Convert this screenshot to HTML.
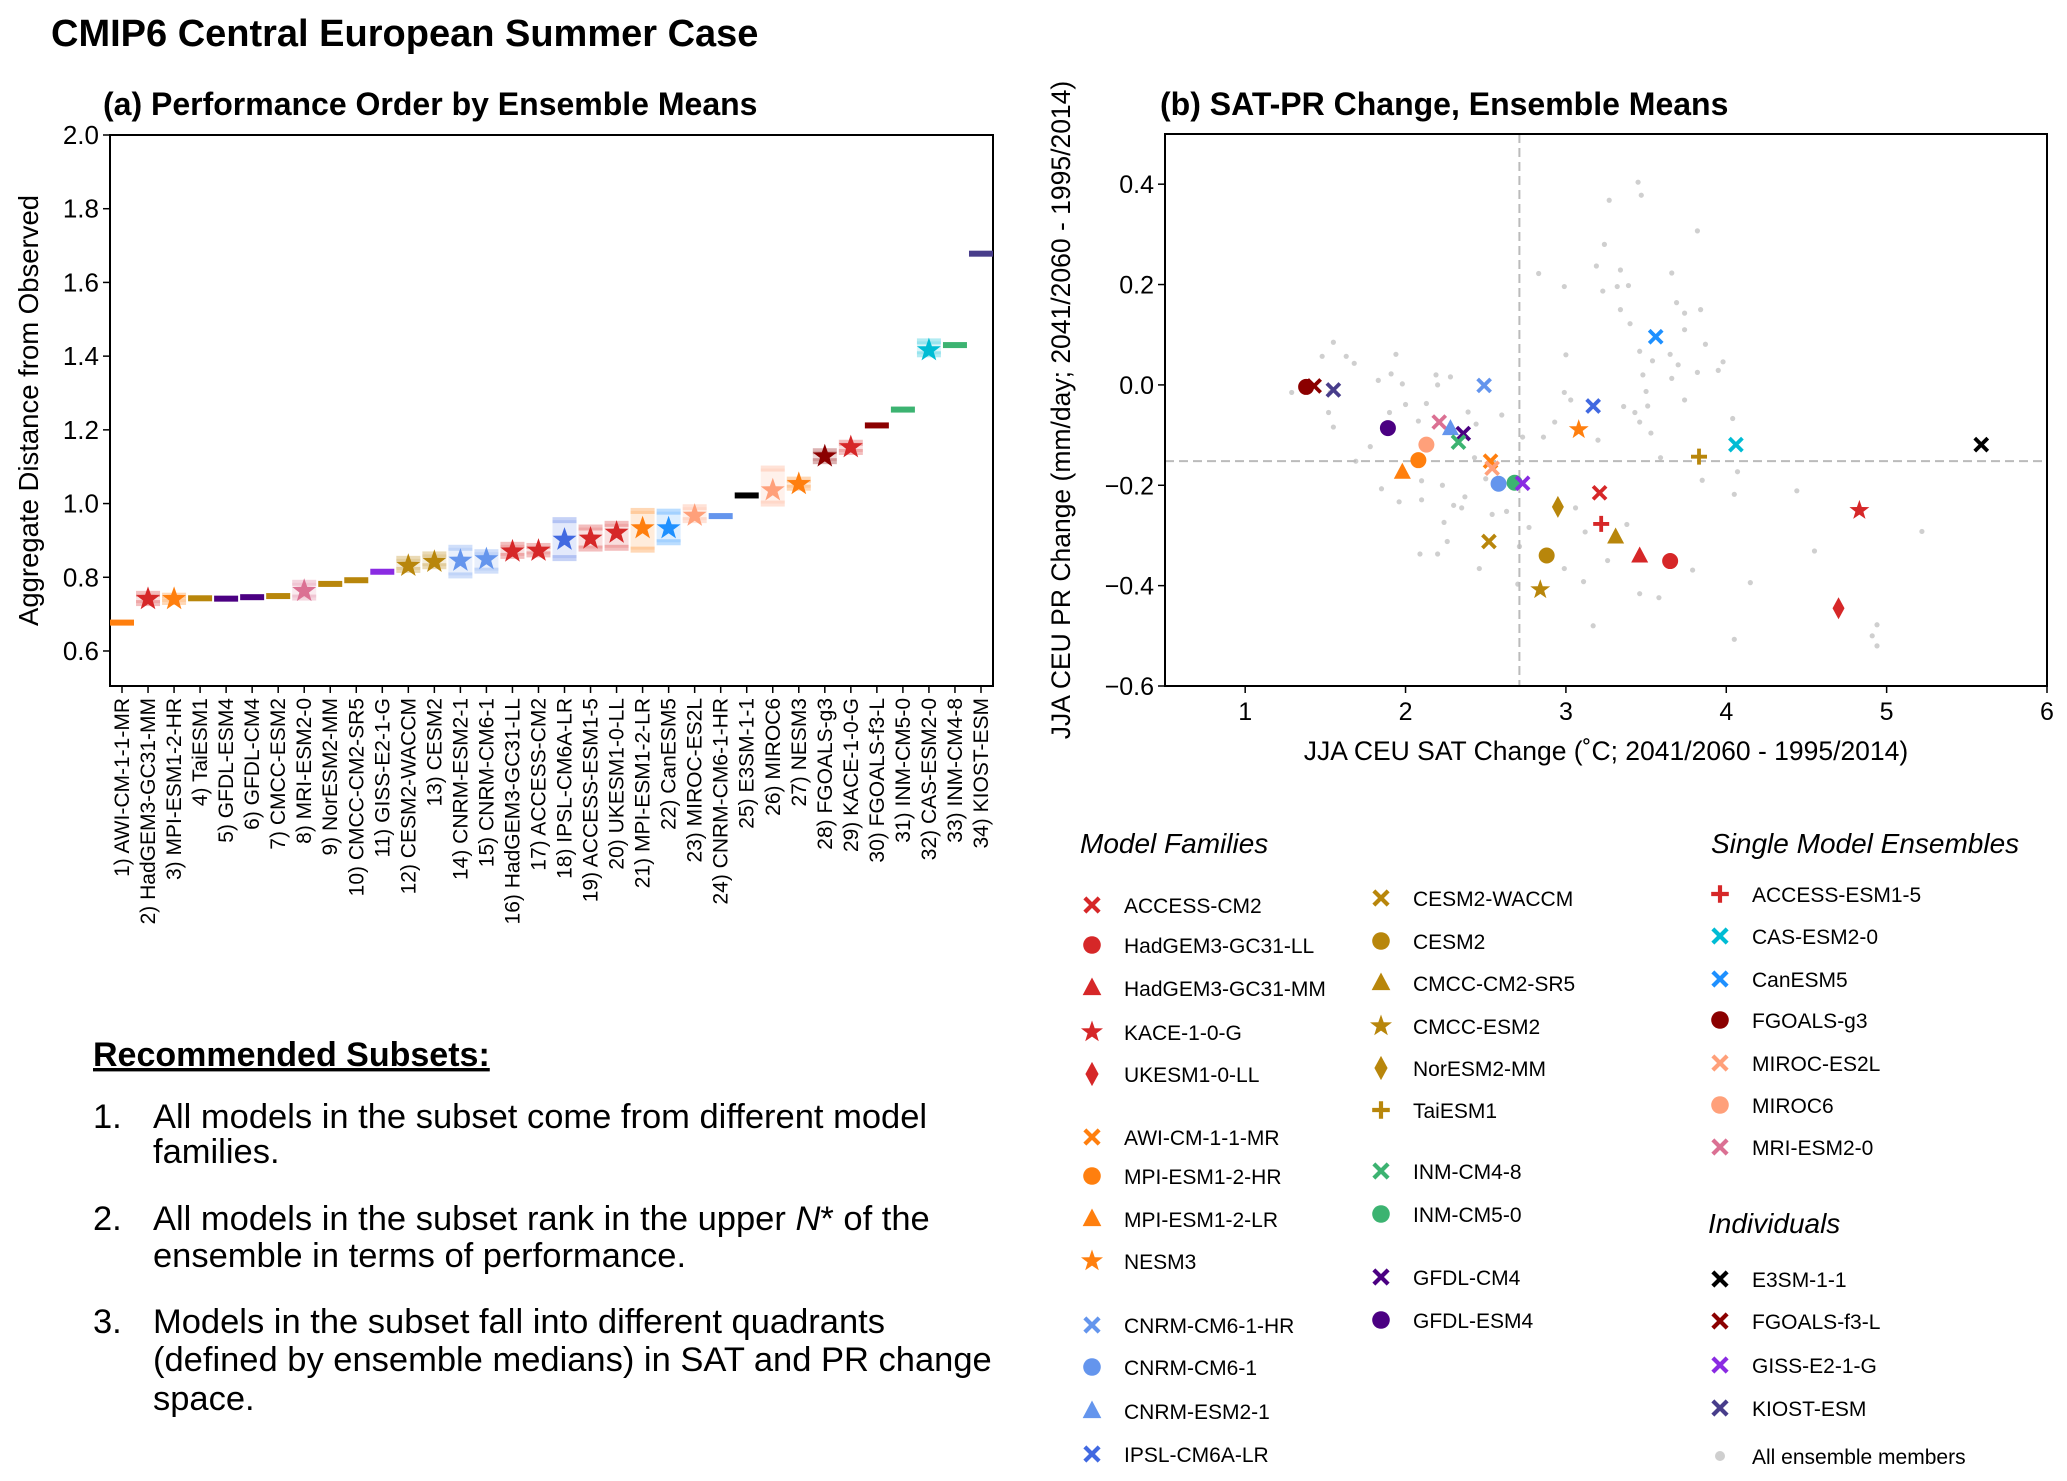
<!DOCTYPE html>
<html><head><meta charset="utf-8"><style>
html,body{margin:0;padding:0;background:#fff}
svg{display:block;font-family:"Liberation Sans",sans-serif}
</style></head><body>
<svg id="fig" width="2067" height="1481" viewBox="0 0 2067 1481" xmlns="http://www.w3.org/2000/svg">
<text x="51" y="46" font-size="38" font-weight="bold">CMIP6 Central European Summer Case</text>
<text x="103" y="115" font-size="32" font-weight="bold">(a) Performance Order by Ensemble Means</text>
<text x="1160" y="115" font-size="32" font-weight="bold">(b) SAT-PR Change, Ensemble Means</text>
<g id="pa"></g>
<g id="pb"></g>
<g id="lg"></g>
<g font-size="34.5">
<text x="93" y="1066" font-size="34" font-weight="bold" text-decoration="underline">Recommended Subsets:</text>
<text x="93" y="1128">1.</text><text x="153" y="1128">All models in the subset come from different model</text>
<text x="153" y="1163">families.</text>
<text x="93" y="1230">2.</text><text x="153" y="1230">All models in the subset rank in the upper <tspan font-style="italic">N</tspan>* of the</text>
<text x="153" y="1267">ensemble in terms of performance.</text>
<text x="93" y="1333">3.</text><text x="153" y="1333">Models in the subset fall into different quadrants</text>
<text x="153" y="1371">(defined by ensemble medians) in SAT and PR change</text>
<text x="153" y="1410">space.</text>
</g>
</svg>
<script>
// ---- Panel (a) data ----
const rankNames = ["AWI-CM-1-1-MR","HadGEM3-GC31-MM","MPI-ESM1-2-HR","TaiESM1","GFDL-ESM4","GFDL-CM4","CMCC-ESM2","MRI-ESM2-0","NorESM2-MM","CMCC-CM2-SR5","GISS-E2-1-G","CESM2-WACCM","CESM2","CNRM-ESM2-1","CNRM-CM6-1","HadGEM3-GC31-LL","ACCESS-CM2","IPSL-CM6A-LR","ACCESS-ESM1-5","UKESM1-0-LL","MPI-ESM1-2-LR","CanESM5","MIROC-ES2L","CNRM-CM6-1-HR","E3SM-1-1","MIROC6","NESM3","FGOALS-g3","KACE-1-0-G","FGOALS-f3-L","INM-CM5-0","CAS-ESM2-0","INM-CM4-8","KIOST-ESM"];
const rankValues = [0.677,0.741,0.741,0.743,0.742,0.746,0.749,0.763,0.782,0.792,0.815,0.831,0.842,0.845,0.849,0.870,0.872,0.902,0.905,0.921,0.933,0.933,0.967,0.966,1.022,1.036,1.053,1.128,1.153,1.212,1.255,1.416,1.430,1.678];
const rankIsEnsemble = [0,1,1,0,0,0,0,1,0,0,0,1,1,1,1,1,1,1,1,1,1,1,1,0,0,1,1,1,1,0,0,1,0,0];
const memberLo = [0,0.730,0.733,0,0,0,0,0.745,0,0,0,0.820,0.830,0.805,0.818,0.858,0.862,0.852,0.878,0.880,0.875,0.895,0.955,0,0,1.000,1.043,1.115,1.140,0,0,1.405,0,0];
const memberHi = [0,0.755,0.750,0,0,0,0,0.785,0,0,0,0.850,0.862,0.880,0.868,0.888,0.885,0.955,0.935,0.945,0.980,0.978,0.990,0,0,1.095,1.065,1.142,1.165,0,0,1.440,0,0];
const rankColors = ["#ff7f0e","#d62728","#ff7f0e","#b8860b","#4b0082","#4b0082","#b8860b","#db7093","#b8860b","#b8860b","#8a2be2","#b8860b","#b8860b","#6495ed","#6495ed","#d62728","#d62728","#4169e1","#d62728","#d62728","#ff7f0e","#1e90ff","#ffa07a","#6495ed","#000000","#ffa07a","#ff7f0e","#8b0000","#d62728","#8b0000","#3cb371","#00bcd4","#3cb371","#483d8b"];
const yTicksA = [0.6,0.8,1.0,1.2,1.4,1.6,1.8,2.0];

// ---- Panel (b) data ----
const modelSat = [1.38,1.43,1.55,1.89,2.21,2.28,2.36,2.33,2.13,2.08,1.98,2.49,2.53,2.54,2.58,2.68,2.73,2.52,2.95,2.88,2.84,3.08,3.17,3.56,3.21,3.22,3.31,3.46,3.65,3.83,4.06,5.59,4.83,4.70];
const modelPr = [-0.004,-0.002,-0.010,-0.086,-0.074,-0.087,-0.097,-0.114,-0.119,-0.150,-0.174,-0.001,-0.152,-0.166,-0.197,-0.195,-0.196,-0.312,-0.243,-0.340,-0.408,-0.089,-0.042,0.096,-0.215,-0.277,-0.303,-0.341,-0.351,-0.143,-0.119,-0.119,-0.250,-0.445];
const modelMarker = ["o","x","x","o","x","^","x","x","o","o","^","x","x","x","o","o","x","x","d","o","*","*","x","x","x","+","^","^","o","+","x","x","*","d"];
const modelColor = ["#8b0000","#8b0000","#483d8b","#4b0082","#db7093","#6495ed","#4b0082","#3cb371","#ffa07a","#ff7f0e","#ff7f0e","#6495ed","#ff7f0e","#ffa07a","#6495ed","#3cb371","#8a2be2","#b8860b","#b8860b","#b8860b","#b8860b","#ff7f0e","#4169e1","#1e90ff","#d62728","#d62728","#b8860b","#d62728","#d62728","#b8860b","#00bcd4","#000000","#d62728","#d62728"];
const memberSat = [1.55,1.48,1.63,1.68,1.94,1.91,1.98,1.83,1.29,1.53,1.52,1.55,2.0,1.90,1.78,1.69,1.85,1.96,2.10,2.09,2.26,2.46,2.30,2.23,2.37,2.19,2.28,2.20,2.13,2.08,2.44,2.39,2.43,2.50,2.63,2.65,2.73,2.83,2.99,2.86,2.93,2.99,3.03,3.06,3.12,3.11,3.17,3.26,3.38,3.24,3.27,3.19,3.23,3.34,3.32,3.39,3.34,3.40,3.45,3.47,3.46,3.54,3.48,3.66,3.69,3.74,3.74,3.82,3.84,3.87,3.65,3.82,3.98,3.50,3.66,3.74,3.36,3.43,3.51,3.46,3.53,3.59,3.95,4.04,4.07,4.05,3.85,4.44,4.55,4.15,3.79,3.46,3.58,4.05,4.94,4.91,4.94,5.22,2.77,2.70,2.99,2.71,2.20,2.10,2.24,2.35,2.54,2.60,3.00,3.70,3.20];
const memberPr = [0.085,0.057,0.057,0.043,0.061,0.022,0.002,0.009,-0.015,-0.015,-0.055,-0.084,-0.039,-0.055,-0.123,-0.152,-0.207,-0.233,-0.229,-0.337,-0.312,-0.366,-0.240,-0.200,-0.223,0.020,0.016,0.000,-0.037,-0.072,-0.078,-0.054,-0.145,-0.187,-0.252,-0.196,-0.104,0.222,0.196,-0.104,-0.074,-0.015,-0.030,-0.245,-0.293,-0.392,-0.480,-0.350,-0.278,0.280,0.368,0.237,0.187,0.229,0.196,0.198,0.150,0.122,0.404,0.378,0.067,0.048,0.020,0.223,0.164,0.143,0.110,0.307,0.150,0.081,0.061,0.025,0.046,-0.013,0.013,-0.030,-0.043,-0.055,-0.042,-0.074,-0.096,-0.145,0.029,-0.067,-0.173,-0.218,-0.190,-0.211,-0.331,-0.394,-0.369,-0.416,-0.424,-0.507,-0.478,-0.500,-0.520,-0.292,-0.284,-0.397,-0.366,-0.322,-0.337,-0.191,-0.274,-0.245,-0.258,-0.060,0.060,0.040,-0.110];
const xTicksB = [1,2,3,4,5,6];
const yTicksB = [-0.6,-0.4,-0.2,0.0,0.2,0.4];
const medianSat = 2.71, medianPr = -0.152;

const NS="http://www.w3.org/2000/svg";
function mk(tag, attrs, parent){const e=document.createElementNS(NS,tag);for(const k in attrs)e.setAttribute(k,attrs[k]);parent.appendChild(e);return e;}
function fmt(v){return (v<0?"\u2212":"")+Math.abs(v).toFixed(1);}

function marker(g,type,cx,cy,s,color,op){
  let e;
  if(type==="o") e=mk("circle",{cx:cx,cy:cy,r:s*0.8,fill:color},g);
  else if(type==="x"){e=mk("path",{d:`M${cx-s*0.65},${cy-s*0.65}L${cx+s*0.65},${cy+s*0.65}M${cx-s*0.65},${cy+s*0.65}L${cx+s*0.65},${cy-s*0.65}`,stroke:color,"stroke-width":s*0.38,fill:"none"},g);}
  else if(type==="+"){e=mk("path",{d:`M${cx-s*0.8},${cy}L${cx+s*0.8},${cy}M${cx},${cy-s*0.8}L${cx},${cy+s*0.8}`,stroke:color,"stroke-width":s*0.38,fill:"none"},g);}
  else if(type==="^") e=mk("polygon",{points:`${cx},${cy-s*0.95} ${cx+s*0.85},${cy+s*0.65} ${cx-s*0.85},${cy+s*0.65}`,fill:color},g);
  else if(type==="d") e=mk("polygon",{points:`${cx},${cy-s*1.1} ${cx+s*0.6},${cy} ${cx},${cy+s*1.1} ${cx-s*0.6},${cy}`,fill:color},g);
  else if(type==="*"){let p=[];for(let i=0;i<10;i++){const a=-Math.PI/2+i*Math.PI/5,r=i%2?s*0.42:s*1.05;p.push((cx+r*Math.cos(a)).toFixed(1)+","+(cy+r*Math.sin(a)).toFixed(1));}e=mk("polygon",{points:p.join(" "),fill:color},g);}
  if(op!==undefined)e.setAttribute("opacity",op);
  return e;
}

// ---- Panel A ----
(function(){
  const g=document.getElementById("pa");
  const L=110,R=993,T=135,B=686,ymin=0.505,ymax=2.0;
  const xS=i=>122+i*26.03, yS=v=>B-(v-ymin)/(ymax-ymin)*(B-T);
  const ax=mk("rect",{x:L,y:T,width:R-L,height:B-T,fill:"none",stroke:"#000","stroke-width":2},g);
  
  yTicksA.forEach(v=>{
    mk("line",{x1:L-7,x2:L,y1:yS(v),y2:yS(v),stroke:"#000","stroke-width":1.5},g);
    const t=mk("text",{x:L-11,y:yS(v)+9,"font-size":26,"text-anchor":"end"},g);t.textContent=v.toFixed(1);
    
  });
  const yl=mk("text",{x:0,y:0,"font-size":27.5,"text-anchor":"middle",transform:`translate(38,${(T+B)/2}) rotate(-90)`},g);
  yl.textContent="Aggregate Distance from Observed";
  
  rankNames.forEach((n,i)=>{
    const x=xS(i);
    mk("line",{x1:x,x2:x,y1:B,y2:B+7,stroke:"#000","stroke-width":1.5},g);
    const t=mk("text",{x:0,y:0,"font-size":21,"text-anchor":"end",transform:`translate(${x+7},${B+12}) rotate(-90)`},g);
    t.textContent=(i+1)+") "+n;
    
    const c=rankColors[i], v=rankValues[i];
    if(rankIsEnsemble[i]){
      const lo=memberLo[i],hi=memberHi[i];
      const band=mk("rect",{x:x-12,y:yS(hi),width:24,height:yS(lo)-yS(hi),fill:c,opacity:0.15},g);
      
      [lo,hi].forEach(m=>{mk("rect",{x:x-12,y:yS(m)-3,width:24,height:6,fill:c,opacity:0.3},g);});
      const s=marker(g,"*",x,yS(v),12,c);
      
    } else {
      const d=mk("rect",{x:x-12,y:yS(v)-3,width:24,height:6,fill:c},g);
      
    }
  });
})();

// ---- Panel B ----
(function(){
  const g=document.getElementById("pb");
  const L=1165,R=2047,T=134,B=686,xmin=0.5,xmax=6,ymin=-0.6,ymax=0.5;
  const xS=v=>L+(v-xmin)/(xmax-xmin)*(R-L), yS=v=>B-(v-ymin)/(ymax-ymin)*(B-T);
  memberSat.forEach((s,i)=>{
    const c=mk("circle",{cx:xS(s),cy:yS(memberPr[i]),r:2.6,fill:"#cfcfcf"},g);
    
  });
  const v=mk("line",{x1:xS(medianSat),x2:xS(medianSat),y1:T,y2:B,stroke:"#bbb","stroke-width":2,"stroke-dasharray":"9,5"},g);
  
  const h=mk("line",{x1:L,x2:R,y1:yS(medianPr),y2:yS(medianPr),stroke:"#bbb","stroke-width":2,"stroke-dasharray":"9,5"},g);
  
  modelSat.forEach((s,i)=>{
    const m=marker(g,modelMarker[i],xS(s),yS(modelPr[i]),10,modelColor[i]);
    
  });
  const ax=mk("rect",{x:L,y:T,width:R-L,height:B-T,fill:"none",stroke:"#000","stroke-width":2},g);
  
  xTicksB.forEach(t=>{
    mk("line",{x1:xS(t),x2:xS(t),y1:B,y2:B+7,stroke:"#000","stroke-width":1.5},g);
    const e=mk("text",{x:xS(t),y:B+34,"font-size":25,"text-anchor":"middle"},g);e.textContent=t;
    
  });
  yTicksB.forEach(t=>{
    mk("line",{x1:L-7,x2:L,y1:yS(t),y2:yS(t),stroke:"#000","stroke-width":1.5},g);
    const e=mk("text",{x:L-11,y:yS(t)+9,"font-size":25,"text-anchor":"end"},g);e.textContent=fmt(t);
    
  });
  const xl=mk("text",{x:(L+R)/2,y:760,"font-size":26.5,"text-anchor":"middle"},g);
  xl.textContent="JJA CEU SAT Change (\u02DAC; 2041/2060 - 1995/2014)";
  
  const yl=mk("text",{x:0,y:0,"font-size":26.5,"text-anchor":"middle",transform:`translate(1070,${(T+B)/2}) rotate(-90)`},g);
  yl.textContent="JJA CEU PR Change (mm/day; 2041/2060 - 1995/2014)";
  
})();

// ---- Legend ----
(function(){
  const g=document.getElementById("lg");
  const heads=[["Model Families",1080,853],["Single Model Ensembles",1711,853],["Individuals",1708,1233]];
  heads.forEach(hd=>{const t=mk("text",{x:hd[1],y:hd[2],"font-size":28,"font-style":"italic"},g);t.textContent=hd[0];
    });
  const entries=[
   ["x","#d62728","ACCESS-CM2",1097,909],["o","#d62728","HadGEM3-GC31-LL",1097,949],["^","#d62728","HadGEM3-GC31-MM",1097,992],["*","#d62728","KACE-1-0-G",1097,1036],["d","#d62728","UKESM1-0-LL",1097,1078],
   ["x","#ff7f0e","AWI-CM-1-1-MR",1097,1141],["o","#ff7f0e","MPI-ESM1-2-HR",1097,1180],["^","#ff7f0e","MPI-ESM1-2-LR",1097,1223],["*","#ff7f0e","NESM3",1097,1265],
   ["x","#6495ed","CNRM-CM6-1-HR",1097,1329],["o","#6495ed","CNRM-CM6-1",1097,1371],["^","#6495ed","CNRM-ESM2-1",1097,1415],["x","#4169e1","IPSL-CM6A-LR",1097,1458],
   ["x","#b8860b","CESM2-WACCM",1393,902],["o","#b8860b","CESM2",1393,945],["^","#b8860b","CMCC-CM2-SR5",1393,987],["*","#b8860b","CMCC-ESM2",1393,1030],["d","#b8860b","NorESM2-MM",1393,1072],["+","#b8860b","TaiESM1",1393,1114],
   ["x","#3cb371","INM-CM4-8",1393,1175],["o","#3cb371","INM-CM5-0",1393,1218],["x","#4b0082","GFDL-CM4",1393,1281],["o","#4b0082","GFDL-ESM4",1393,1324],
   ["+","#d62728","ACCESS-ESM1-5",1729,898],["x","#00bcd4","CAS-ESM2-0",1729,940],["x","#1e90ff","CanESM5",1729,983],["o","#8b0000","FGOALS-g3",1729,1024],["x","#ffa07a","MIROC-ES2L",1729,1067],["o","#ffa07a","MIROC6",1729,1109],["x","#db7093","MRI-ESM2-0",1729,1151],
   ["x","#000000","E3SM-1-1",1729,1283],["x","#8b0000","FGOALS-f3-L",1729,1325],["x","#8a2be2","GISS-E2-1-G",1729,1369],["x","#483d8b","KIOST-ESM",1729,1412],["dot","#cfcfcf","All ensemble members",1729,1460]
  ];
  const dx={1097:-5,1393:-12,1729:-9};
  entries.forEach(e=>{
    const mx=e[3]+dx[e[3]], my=e[4]-4;
    let m;
    if(e[0]==="dot") m=mk("circle",{cx:mx,cy:my,r:5,fill:e[1]},g);
    else m=marker(g,e[0],mx,my,11,e[1]);
    
    const t=mk("text",{x:mx+32,y:my+8,"font-size":21},g);t.textContent=e[2];
    
  });
})();
</script>
</body></html>
